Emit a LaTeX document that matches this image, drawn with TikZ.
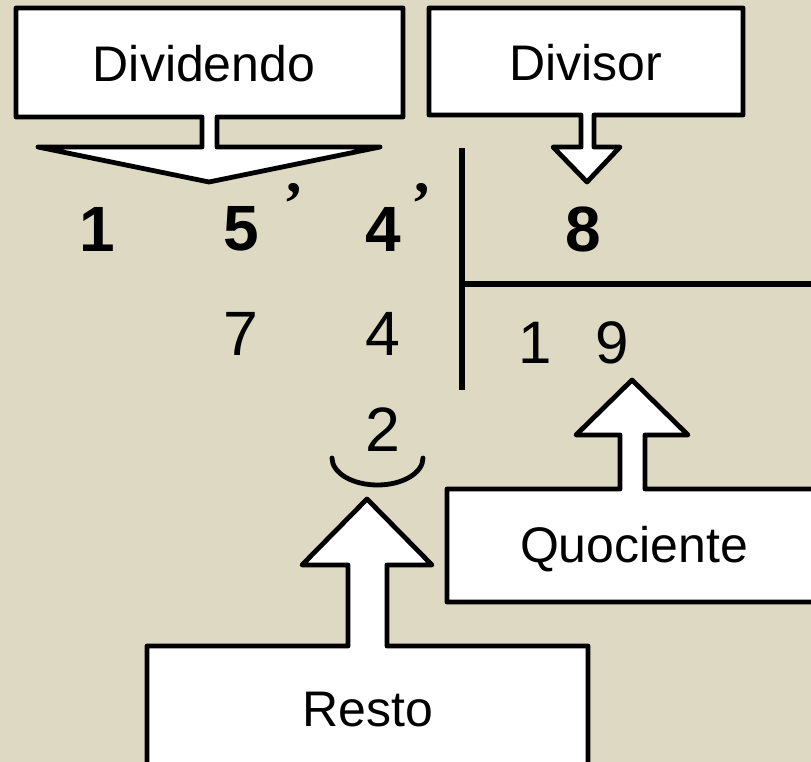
\documentclass[tikz,border=0pt]{standalone}
\usepackage{fontspec}
\setmainfont{Liberation Sans}
\newfontfamily\serifapos{Liberation Serif}
\definecolor{bgtan}{HTML}{DDD9C3}
\tikzset{
  callout/.style={draw=black, fill=white, line width=3.6pt, line join=round},
  divline/.style={draw=black, line width=3.8pt},
  lbl/.style={inner sep=0pt, font=\fontsize{37.5pt}{40pt}\selectfont},
  bigdig/.style={inner sep=0pt, font=\fontsize{48pt}{50pt}\selectfont\bfseries},
  dig/.style={inner sep=0pt, font=\fontsize{47pt}{50pt}\selectfont},
  apos/.style={inner sep=0pt, font=\fontsize{46pt}{48pt}\serifapos\bfseries},
}
\begin{document}
\begin{tikzpicture}[x=0.75pt, y=-0.75pt]
\useasboundingbox (0,0) rectangle (811,762);
\clip (0,0) rectangle (811,762);
\fill[bgtan] (0,0) rectangle (811,762);

% Dividendo callout
\path[callout] (16,8) -- (403,8) -- (403,117) -- (217,117) -- (217,147) -- (380,147)
  -- (209,182) -- (38,147) -- (202,147) -- (202,117) -- (16,117) -- cycle;
\node[lbl] (dividendo) at (204,64) {Dividendo};

% Divisor callout
\path[callout] (429,8) -- (743,8) -- (743,115) -- (594,115) -- (594,147) -- (620,147)
  -- (587,182) -- (553,147) -- (581,147) -- (581,115) -- (429,115) -- cycle;
\node[lbl] (divisor) at (586,63) {Divisor};

% division lines
\coordinate (vtop) at (462,148);
\coordinate (vbot) at (462,390);
\coordinate (hleft) at (462,284);
\coordinate (hright) at (820,284);
\path[divline] (vtop) -- (vbot);
\path[divline] (hleft) -- (hright);

% dividend digits
\node[bigdig] (d1) at (97,229) {1};
\node[bigdig] (d5) at (241,229) {5};
\node[bigdig] (d4) at (383,229) {4};
\node[apos] (a1) at (294,193) {,};
\node[apos] (a2) at (422,193) {,};
% divisor
\node[bigdig] (dv8) at (583,229) {8};

% partial remainders
\node[dig] (r7) at (241,334) {7};
\node[dig] (r4) at (383,334) {4};
\node[dig] (r2) at (383,430) {2};
\draw[line width=3.6pt, line cap=round] (332,458) arc[start angle=180, end angle=0, x radius=45.5, y radius=27];

% quotient
\node[dig, font=\fontsize{45pt}{48pt}\selectfont] (q1) at (535,343) {1};
\node[dig, font=\fontsize{45pt}{48pt}\selectfont] (q9) at (612,343) {9};

% Quociente callout
\path[callout] (447,489) -- (447,602) -- (830,602) -- (830,489) -- (645,489) -- (645,435)
  -- (688,435) -- (632,380) -- (576,435) -- (620,435) -- (620,489) -- cycle;
\node[lbl] (quociente) at (634,549) {Quociente};

% Resto callout
\path[callout] (147,646) -- (147,780) -- (588,780) -- (588,646) -- (387,646) -- (387,565)
  -- (432,565) -- (367,499) -- (302,565) -- (348,565) -- (348,646) -- cycle;
\node[lbl] (resto) at (368,710) {Resto};
\end{tikzpicture}
\end{document}
